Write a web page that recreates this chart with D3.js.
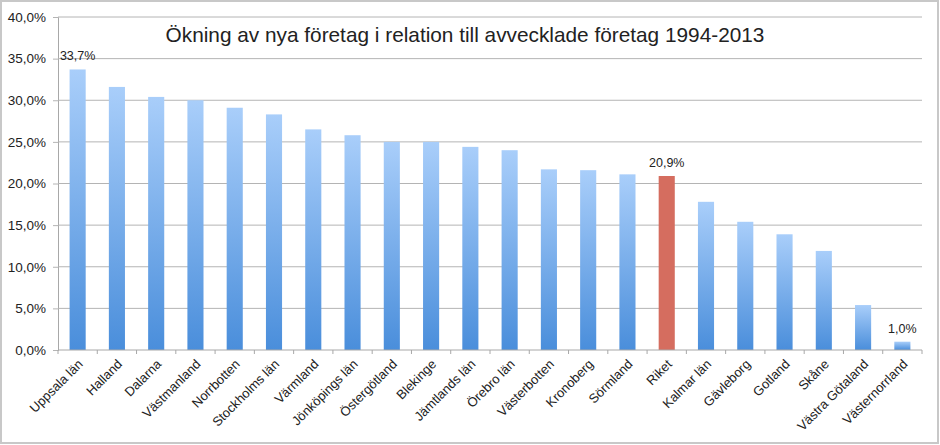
<!DOCTYPE html>
<html>
<head>
<meta charset="utf-8">
<script src="https://cdn.jsdelivr.net/npm/d3@7"></script>
<style>
  body { margin: 0; background: #fff; }
  text { font-family: "Liberation Sans", Arial, Helvetica, sans-serif; fill: #222; }
</style>
</head>
<body>
<div id="main"></div>
<script>
const ctx = {
    CHART_WIDTH: 940,
    CHART_HEIGHT: 445
};
const margin = {top: 17, right: 18, bottom: 95, left: 58};

// data
const regions = ["Uppsala län", "Halland", "Dalarna", "Västmanland", "Norrbotten",
    "Stockholms län", "Värmland", "Jönköpings län", "Östergötland", "Blekinge",
    "Jämtlands län", "Örebro län", "Västerbotten", "Kronoberg", "Sörmland", "Riket",
    "Kalmar län", "Gävleborg", "Gotland", "Skåne", "Västra Götaland", "Västernorrland"];
const values = [33.7, 31.6, 30.4, 30.0, 29.1, 28.3, 26.5, 25.8, 25.0, 25.0,
    24.4, 24.0, 21.7, 21.6, 21.1, 20.9, 17.8, 15.4, 13.9, 11.9, 5.4, 1.0];
const yTicks = [0, 5, 10, 15, 20, 25, 30, 35, 40];
const labelled = ["Uppsala län", "Riket", "Västernorrland"];
const highlighted = ["Riket"];
const title = "Ökning av nya företag i relation till avvecklade företag 1994-2013";

const fmt = v => d3.format(".1f")(v).replace(".", ",") + "%";

function createViz() {
    const width = ctx.CHART_WIDTH - margin.left - margin.right;
    const height = ctx.CHART_HEIGHT - margin.top - margin.bottom;
    const data = regions.map((r, i) => ({region: r, value: values[i]}));

    const svg = d3.select("#main").append("svg")
        .attr("width", ctx.CHART_WIDTH)
        .attr("height", ctx.CHART_HEIGHT);

    // bar gradient, light at the top
    const defs = svg.append("defs");
    const grad = defs.append("linearGradient").attr("id", "blueGrad")
        .attr("x1", 0).attr("y1", 0).attr("x2", 0).attr("y2", 1);
    grad.append("stop").attr("offset", "0%").attr("stop-color", "#a9cefa");
    grad.append("stop").attr("offset", "100%").attr("stop-color", "#4a8edb");

    // outer frame
    svg.append("rect")
        .attr("x", 1).attr("y", 1)
        .attr("width", ctx.CHART_WIDTH - 3).attr("height", ctx.CHART_HEIGHT - 3)
        .attr("fill", "none").attr("stroke", "#c8c8c8").attr("stroke-width", 2);

    const g = svg.append("g").attr("transform", `translate(${margin.left},${margin.top})`);

    const x = d3.scaleBand().domain(regions).range([0, width]).paddingInner(0.59).paddingOuter(0.295);
    const xTicks = d3.scaleBand().domain(regions).range([0, width]);
    const y = d3.scaleLinear().domain([0, 40]).range([height, 0]);

    // gridlines + y axis
    const yAxis = d3.axisLeft(y).tickValues(yTicks).tickSize(5).tickPadding(7).tickFormat(fmt);
    const yG = g.append("g").call(yAxis);
    yG.select(".domain").attr("stroke", "#a8a8a8");
    yG.selectAll(".tick line").attr("stroke", "#b4b4b4");
    yG.selectAll(".tick text").attr("font-size", 13.5).attr("fill", "#222")
        .attr("font-family", "Liberation Sans, Arial, sans-serif");

    g.append("g").selectAll("line").data(yTicks.filter(t => t > 0)).join("line")
        .attr("x1", 0).attr("x2", width)
        .attr("y1", d => y(d)).attr("y2", d => y(d))
        .attr("stroke", "#b4b4b4");

    // bars
    g.append("g").selectAll("rect").data(data).join("rect")
        .attr("x", d => x(d.region))
        .attr("y", d => y(d.value))
        .attr("width", x.bandwidth())
        .attr("height", d => height - y(d.value))
        .attr("fill", d => highlighted.includes(d.region) ? "#d56d5f" : "url(#blueGrad)");

    // x axis with ticks at category boundaries
    const xG = g.append("g").attr("transform", `translate(0,${height})`);
    xG.append("line").attr("x1", 0).attr("x2", width).attr("stroke", "#a8a8a8");
    xG.selectAll(".tk").data(regions.concat([null])).join("line")
        .attr("class", "tk")
        .attr("x1", (d, i) => i * xTicks.step()).attr("x2", (d, i) => i * xTicks.step())
        .attr("y1", 0).attr("y2", 4)
        .attr("stroke", "#a8a8a8");

    xG.selectAll("text").data(regions).join("text")
        .attr("transform", d => `translate(${x(d) + x.bandwidth() / 2 + 6},${15}) rotate(-45)`)
        .attr("text-anchor", "end")
        .attr("font-size", 13)
        .text(d => d);

    // value labels
    g.append("g").selectAll("text").data(data.filter(d => labelled.includes(d.region))).join("text")
        .attr("x", d => x(d.region) + x.bandwidth() / 2)
        .attr("y", d => y(d.value) - 9)
        .attr("text-anchor", "middle")
        .attr("font-size", 12.5)
        .attr("fill", "#333")
        .text(d => fmt(d.value));

    // title
    svg.append("text")
        .attr("x", 465).attr("y", 42)
        .attr("text-anchor", "middle")
        .attr("font-size", 20.8)
        .text(title);
}

createViz();
</script>
</body>
</html>
